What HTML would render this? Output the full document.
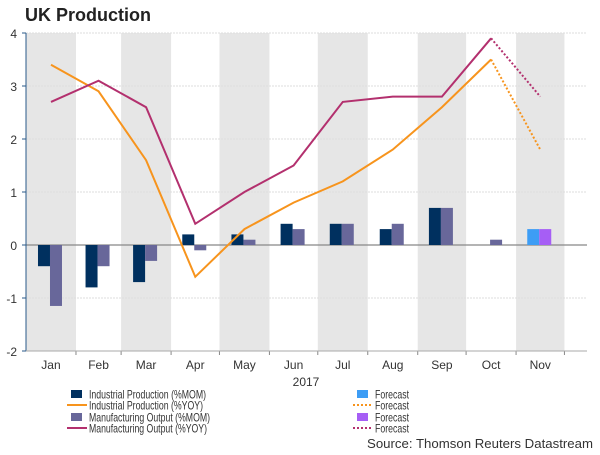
<!DOCTYPE html>
<html><head><meta charset="utf-8"><style>
body{margin:0;background:#fff;font-family:"Liberation Sans",Arial,sans-serif;}
svg text{font-family:"Liberation Sans",Arial,sans-serif;}
</style></head><body>
<svg id="chart" width="600" height="450" viewBox="0 0 600 450" xmlns="http://www.w3.org/2000/svg">
<text x="25" y="21" font-size="18" font-weight="bold" fill="#222">UK Production</text>
<g id="bands"></g><g id="grid"></g><g id="bars"></g><g id="lines"></g><g id="axes"></g><g id="legend"></g>
<text x="593" y="448" font-size="12.5" text-anchor="end" fill="#333" textLength="226" lengthAdjust="spacingAndGlyphs">Source: Thomson Reuters Datastream</text>
</svg>
<script>
const months=["Jan","Feb","Mar","Apr","May","Jun","Jul","Aug","Sep","Oct","Nov"];
const monthDays=[31,28,31,30,31,30,31,31,30,31,30];
const yTicks=[-2,-1,0,1,2,3,4];
const ipMom=[-0.4,-0.8,-0.7,0.2,0.2,0.4,0.4,0.3,0.7,null];
const moMom=[-1.15,-0.4,-0.3,-0.1,0.1,0.3,0.4,0.4,0.7,0.1];
const ipYoy=[3.4,2.9,1.6,-0.6,0.3,0.8,1.2,1.8,2.6,3.5];
const moYoy=[2.7,3.1,2.6,0.4,1.0,1.5,2.7,2.8,2.8,3.9];
const ipMomFc=[0.3];
const moMomFc=[0.3];
const ipYoyFc=[1.8];
const moYoyFc=[2.8];
const NS="http://www.w3.org/2000/svg";
const X0=26,X1=587,Y0=33,Y1=351,dayMax=348;
const x=d=>X0+(X1-X0)*d/dayMax;
const y=v=>Y1-(v-(-2))/(6)*(Y1-Y0);
const starts=[];let acc=0;monthDays.forEach(d=>{starts.push(acc);acc+=d;});
const mid=i=>x(starts[i]+monthDays[i]/2);
function mk(tag,attrs,parent){const e=document.createElementNS(NS,tag);for(const k in attrs)e.setAttribute(k,attrs[k]);document.getElementById(parent).appendChild(e);return e;}
months.forEach((m,i)=>{
 if(i%2===0){const r=mk('rect',{x:x(starts[i]),y:Y0,width:x(starts[i]+monthDays[i])-x(starts[i]),height:Y1-Y0,fill:'#e6e6e6'},'bands');
 
 }
 const t=mk('text',{x:mid(i),y:369,'font-size':12,'text-anchor':'middle',fill:'#333'},'axes');t.textContent=m;
 
 
 const tk=mk('line',{x1:x(starts[i]+monthDays[i]),x2:x(starts[i]+monthDays[i]),y1:Y1,y2:Y1+4,stroke:'#888'},'axes');
 
 
});
yTicks.forEach(v=>{
 const g=mk('line',{x1:X0,x2:X1,y1:y(v),y2:y(v),stroke:v===0?'#888':'#ddd','stroke-width':v===0?1.2:1,'stroke-dasharray':v===0?'':'2,1'},'grid');
 
 
 const t=mk('text',{x:17,y:y(v)+5,'font-size':12,'text-anchor':'end',fill:'#333'},'axes');t.textContent=v;
 
 
 const tk=mk('line',{x1:X0-4,x2:X0,y1:y(v),y2:y(v),stroke:'#2a5a8a'},'axes');
 
 
});
const ax=mk('line',{x1:X0,x2:X0,y1:Y0,y2:Y1,stroke:'#2a5a8a'},'axes');


const bx=mk('line',{x1:X0,x2:X1,y1:Y1,y2:Y1,stroke:'#aaa'},'axes');


const yr=mk('text',{x:306,y:386,'font-size':12,'text-anchor':'middle',fill:'#333'},'axes');yr.textContent='2017';


function bar(v,cx,off,color,name){if(v===null)return;const y0=y(0),yv=y(v);
 const r=mk('rect',{x:cx+off,y:Math.min(y0,yv),width:12,height:Math.abs(yv-y0),fill:color},'bars');
 
 }
ipMom.forEach((v,i)=>bar(v,mid(i),-13,'#00305f','bar-ip-mom-'+months[i].toLowerCase()));
moMom.forEach((v,i)=>bar(v,mid(i),-1,'#68679a','bar-mo-mom-'+months[i].toLowerCase()));
bar(ipMomFc[0],mid(10),-13,'#3d9df5','bar-ip-mom-forecast');
bar(moMomFc[0],mid(10),-1,'#a65ef5','bar-mo-mom-forecast');
function line(vals,color,name,dash,startIdx){const pts=vals.map((v,i)=>mid(i+startIdx)+','+y(v)).join(' ');
 const p=mk('polyline',{points:pts,fill:'none',stroke:color,'stroke-width':2,'stroke-dasharray':dash},'lines');
 
 }
line(ipYoy,'#f7941d','line-ip-yoy','',0);
line(moYoy,'#b3306e','line-mo-yoy','',0);
line([ipYoy[9],ipYoyFc[0]],'#f7941d','line-ip-yoy-forecast','2,2',9);
line([moYoy[9],moYoyFc[0]],'#b3306e','line-mo-yoy-forecast','2,2',9);
const leg=[[71,394,'rect','#00305f','','Industrial Production (%MOM)',117],[71,405,'line','#f7941d','','Industrial Production (%YOY)',114],[71,417,'rect','#68679a','','Manufacturing Output (%MOM)',121],[71,428,'line','#b3306e','','Manufacturing Output (%YOY)',118],
[357,394,'rect','#3d9df5','','Forecast',34],[357,405,'line','#f7941d','2,2','Forecast',34],[357,417,'rect','#a65ef5','','Forecast',34],[357,428,'line','#b3306e','2,2','Forecast',34]];
leg.forEach((l,i)=>{
 const s=l[2]==='rect'?mk('rect',{x:l[0],y:l[1]-4,width:11,height:8,fill:l[3]},'legend'):mk('line',{x1:l[0]-4,x2:l[0]+16,y1:l[1],y2:l[1],stroke:l[3],'stroke-width':2,'stroke-dasharray':l[4]},'legend');
 
 
 const t=mk('text',{x:l[0]+18,y:l[1]+4.5,'font-size':12,fill:'#333',textLength:l[6],lengthAdjust:'spacingAndGlyphs'},'legend');t.textContent=l[5];
 
 
});
</script>
</body></html>
